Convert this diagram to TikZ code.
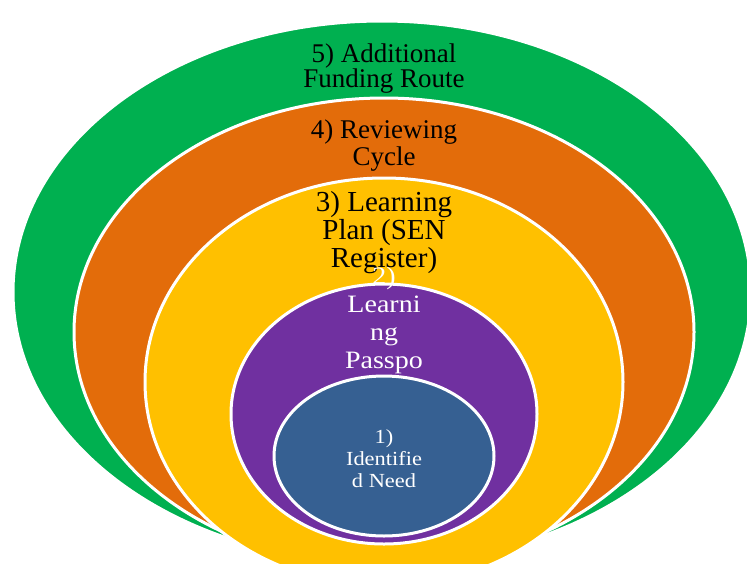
\documentclass[tikz,border=0pt]{standalone}
\usepackage{fontspec}
\setmainfont{Liberation Serif}
\newfontfamily\widefont[FakeStretch=1.12]{Liberation Serif}
\usepackage{tikz}
\usepackage{xcolor}
\definecolor{fundgreen}{HTML}{00B050}
\definecolor{revorange}{HTML}{E36C0A}
\definecolor{planyellow}{HTML}{FFC000}
\definecolor{passpurple}{HTML}{7030A0}
\definecolor{needblue}{HTML}{366092}
\tikzset{
    ring/.style={draw=white, line width=3pt},
    ringlabel/.style={align=center, inner sep=0pt, anchor=base}
}

\begin{document}
\begin{tikzpicture}[x=1pt, y=-1pt]
    \clip (0,0) rectangle (747,563);

    % 5) outer ring
    \filldraw[ring, fill=fundgreen] (382,292) ellipse (369 and 271);
    \node[ringlabel, font=\fontsize{27}{25}\selectfont] (funding) at (384,87) {5) Additional\\Funding Route};

    % 4) second ring
    \filldraw[ring, fill=revorange] (384,332) ellipse (310 and 234);
    \node[ringlabel, font=\fontsize{27}{27}\selectfont] (reviewing) at (384,165) {4) Reviewing\\Cycle};

    % 3) third ring
    \filldraw[ring, fill=planyellow] (384,382) ellipse (239 and 204);
    \node[ringlabel, font=\fontsize{29}{28}\selectfont] (plan) at (384,267) {3) Learning\\Plan (SEN\\Register)};

    % 2) fourth ring
    \filldraw[ring, fill=passpurple] (384,414) ellipse (153 and 130);
    \node[ringlabel, white, font=\widefont\fontsize{25}{28}\selectfont] (passport) at (384,368) {2)\\Learni\\ng\\Passpo};

    % 1) centre
    \filldraw[ring, fill=needblue] (384,456) ellipse (110 and 80);
    \node[ringlabel, white, font=\widefont\fontsize{20}{22}\selectfont] (need) at (384,487) {1)\\Identifie\\d Need};
\end{tikzpicture}
\end{document}
